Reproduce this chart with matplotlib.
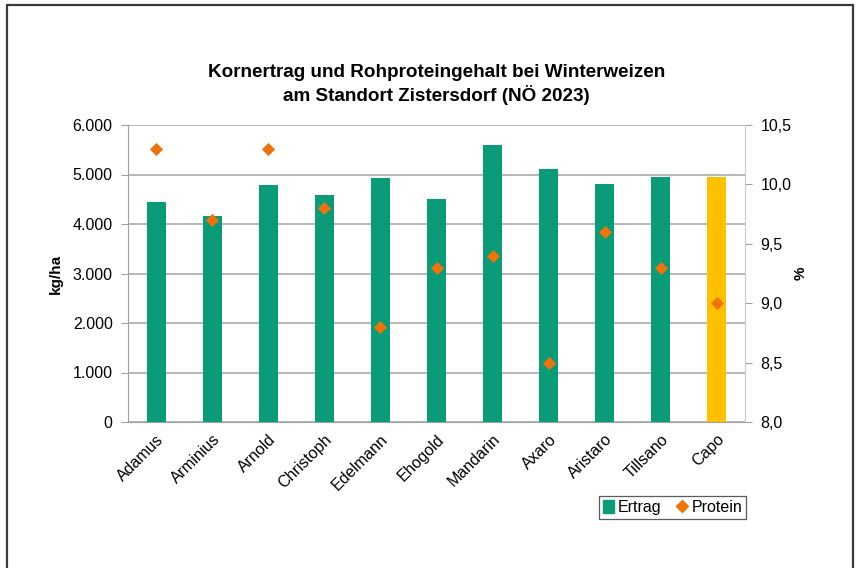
import matplotlib
matplotlib.use("Agg")
import matplotlib.pyplot as plt
from matplotlib.patches import Rectangle
from matplotlib.lines import Line2D
from matplotlib.ticker import FuncFormatter

plt.rcParams['font.family'] = ['Liberation Sans', 'DejaVu Sans']

sorten = ["Adamus", "Arminius", "Arnold", "Christoph", "Edelmann", "Ehogold",
          "Mandarin", "Axaro", "Aristaro", "Tillsano", "Capo"]
ertrag = [4440, 4160, 4790, 4590, 4930, 4510, 5590, 5120, 4810, 4950, 4950]
protein = [10.3, 9.7, 10.3, 9.8, 8.8, 9.3, 9.4, 8.5, 9.6, 9.3, 9.0]
bar_colors = ["#0a9b79"] * 10 + ["#ffc000"]

left_ticks = [0, 1000, 2000, 3000, 4000, 5000, 6000]
right_ticks = [8.0, 8.5, 9.0, 9.5, 10.0, 10.5]

W, H = 859, 568
fig = plt.figure(figsize=(W / 100, H / 100), dpi=100)

# outer frame
fig.patches.append(Rectangle((7 / W, -0.01), (853 - 7) / W, (568 - 5) / H + 0.01,
                             transform=fig.transFigure, fill=False,
                             edgecolor="#3a3a3a", linewidth=1.6))

ax = fig.add_axes([128 / W, 1 - 422 / H, (745 - 128) / W, (422 - 125) / H])
x = list(range(len(sorten)))
ax.bar(x, ertrag, width=0.34, color=bar_colors, zorder=3)
ax.set_xlim(-0.5, len(sorten) - 0.5)
ax.set_ylim(0, 6000)
ax.set_yticks(left_ticks)
ax.yaxis.set_major_formatter(FuncFormatter(lambda v, p: f"{int(v):,}".replace(",", ".")))
ax.grid(axis="y", color="#aaaaaa", linewidth=1.2, zorder=0)
ax.set_xticks(x)
ax.set_xticklabels(sorten, rotation=45, ha="right", rotation_mode="anchor", fontsize=11.5)
ax.tick_params(axis="x", length=0, pad=7)
ax.tick_params(axis="y", length=5, color="#a0a0a0", labelsize=11.5, pad=6)
ax.spines["top"].set_visible(False)
ax.spines["left"].set_color("#a0a0a0")
ax.spines["bottom"].set_color("#a0a0a0")
ax.spines["right"].set_visible(False)
ax.set_ylabel("kg/ha", fontsize=11, fontweight="bold", labelpad=7)

ax2 = ax.twinx()
ax2.scatter(x, protein, marker="D", s=45, color="#ee7308", zorder=4, linewidths=0)
ax2.set_ylim(8.0, 10.5)
ax2.set_yticks(right_ticks)
ax2.yaxis.set_major_formatter(FuncFormatter(lambda v, p: f"{v:.1f}".replace(".", ",")))
ax2.tick_params(axis="y", length=5, color="#a0a0a0", labelsize=11.5, pad=6)
ax2.spines["right"].set_color("#c8c8c8")
for s in ["top", "left", "bottom"]:
    ax2.spines[s].set_visible(False)
ax2.set_ylabel("%", fontsize=11, fontweight="bold", rotation=90, labelpad=2)

fig.text(0.5 * (128 + 745) / W, 1 - 72 / H, "Kornertrag und Rohproteingehalt bei Winterweizen",
         ha="center", va="center", fontsize=13.6, fontweight="bold")
fig.text(0.5 * (128 + 745) / W, 1 - 95 / H, "am Standort Zistersdorf (NÖ 2023)",
         ha="center", va="center", fontsize=13.6, fontweight="bold")

handles = [Rectangle((0, 0), 1, 1, color="#0a9b79"),
           Line2D([], [], marker="D", linestyle="none", color="#ee7308", markersize=6.5)]
leg = fig.legend(handles, ["Ertrag", "Protein"], loc="center right",
                 bbox_to_anchor=(746 / W, 1 - 507.5 / H), ncol=2, frameon=True,
                 fancybox=False, edgecolor="#333333", fontsize=11.5,
                 handlelength=0.7, handletextpad=0.25, columnspacing=0.9,
                 borderpad=0.25, handleheight=0.8, borderaxespad=0)
leg.get_frame().set_linewidth(0.9)

fig.savefig("out.png", dpi=100)
